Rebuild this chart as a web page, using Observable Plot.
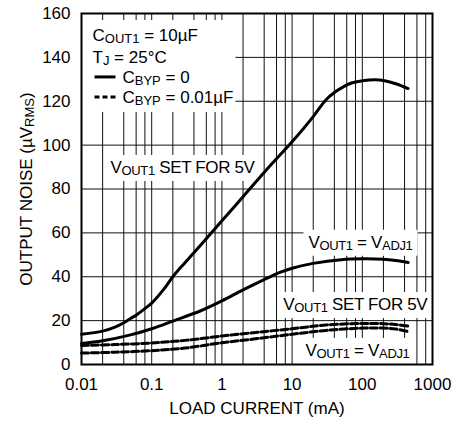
<!DOCTYPE html>
<html>
<head>
<meta charset="utf-8">
<script src="https://cdn.jsdelivr.net/npm/d3@7"></script>
<script src="https://cdn.jsdelivr.net/npm/@observablehq/plot@0.6"></script>
<style>
  html, body { margin: 0; padding: 0; background: #fff; }
  #chart { width: 471px; height: 421px; }
</style>
</head>
<body>
<div id="chart"></div>
<script>
// ---- data ----
const current5V_byp0 = [0.01, 0.02, 0.03, 0.04, 0.05, 0.06, 0.08, 0.1, 0.15, 0.2, 0.3, 0.5, 1, 2, 5, 10, 20, 30, 40, 50, 70, 100, 150, 200, 300, 450];
const noise5V_byp0   = [13.8, 15.2, 17, 19, 21, 22.5, 25.5, 28, 34.5, 40, 46.5, 54.5, 65.5, 76.5, 91, 101.5, 113, 120.5, 124, 126, 128.3, 129.3, 129.8, 129.5, 128, 125.8];

const currentAdj_byp0 = [0.01, 0.02, 0.05, 0.1, 0.2, 0.5, 1, 2, 4, 7, 10, 20, 50, 100, 200, 300, 450];
const noiseAdj_byp0   = [9.6, 10.8, 13.5, 16.3, 19.8, 24.5, 29, 34, 38.7, 42.2, 43.9, 46.1, 47.8, 48.2, 48, 47.4, 46.5];

const current5V_byp01 = [0.01, 0.03, 0.1, 0.3, 1, 3, 10, 30, 100, 200, 300, 450];
const noise5V_byp01   = [8.7, 9.1, 9.8, 11, 13, 14.6, 16.3, 18, 18.7, 18.6, 18.2, 17.5];

const currentAdj_byp01 = [0.01, 0.03, 0.1, 0.3, 1, 3, 10, 30, 100, 200, 300, 450];
const noiseAdj_byp01   = [5.2, 5.6, 6.3, 7.5, 9.9, 11.7, 13.8, 15.5, 16.6, 16.6, 16.2, 15];

const xTicks = [0.01, 0.1, 1, 10, 100, 1000];
const yTicks = [0, 20, 40, 60, 80, 100, 120, 140, 160];
const gridX = [0.02, 0.04, 0.06, 0.08, 0.1, 0.2, 0.4, 0.6, 0.8, 1, 2, 4, 6, 8, 10, 20, 40, 60, 80, 100, 200, 400, 600, 800];
const gridY = [20, 40, 60, 80, 100, 120, 140];

const labelText    = ["V_{OUT1} SET FOR 5V", "V_{OUT1} = V_{ADJ1}", "V_{OUT1} SET FOR 5V", "V_{OUT1} = V_{ADJ1}"];
const labelCurrent = [0.0259, 17.1, 7.5, 15.5];
const labelNoise   = [89.8, 55.7, 27.3, 6.4];

const legendText = ["C_{OUT1} = 10µF", "T_{J} = 25°C", "C_{BYP} = 0", "C_{BYP} = 0.01µF"];
const xTitle = "LOAD CURRENT (mA)";
const yTitle = "OUTPUT NOISE (µV_{RMS})";

// ---- tables built from the arrays ----
const toRows = (xs, ys, s) => xs.map((x, i) => ({current: x, noise: ys[i], series: s}));
const solidRows = [
  ...toRows(current5V_byp0, noise5V_byp0, "5V"),
  ...toRows(currentAdj_byp0, noiseAdj_byp0, "ADJ")
];
const dashedRows = [
  ...toRows(current5V_byp01, noise5V_byp01, "5V"),
  ...toRows(currentAdj_byp01, noiseAdj_byp01, "ADJ")
];
const labels = labelText.map((t, i) => ({text: t, current: labelCurrent[i], noise: labelNoise[i]}));

const FONT = '"Liberation Sans", Arial, Helvetica, sans-serif';

const plot = Plot.plot({
  width: 471,
  height: 421,
  marginLeft: 81,
  marginRight: 39,
  marginTop: 13,
  marginBottom: 57,
  style: {fontFamily: FONT, fontSize: "17px", color: "#000", background: "#fff"},
  x: {type: "log", domain: [0.01, 1000], ticks: xTicks, tickFormat: d => String(d), tickSize: 0, tickPadding: 13, label: null},
  y: {domain: [0, 160], ticks: yTicks, tickSize: 0, tickPadding: 11, label: null},
  marks: [
    Plot.ruleX(gridX, {stroke: "#111", strokeWidth: 1}),
    Plot.ruleY(gridY, {stroke: "#111", strokeWidth: 1}),
    Plot.line(solidRows, {x: "current", y: "noise", z: "series", stroke: "#000", strokeWidth: 3, curve: "catmull-rom"}),
    Plot.line(dashedRows, {x: "current", y: "noise", z: "series", stroke: "#000", strokeWidth: 3, strokeDasharray: "7,3", curve: "catmull-rom"}),
    Plot.text(labels, {x: "current", y: "noise", text: "text", textAnchor: "start", lineAnchor: "middle", fill: "#000"}),
    Plot.text([legendText[0]], {text: d => d, frameAnchor: "top-left", dx: 11, dy: 22, textAnchor: "start", lineAnchor: "middle"}),
    Plot.text([legendText[1]], {text: d => d, frameAnchor: "top-left", dx: 11, dy: 44, textAnchor: "start", lineAnchor: "middle"}),
    Plot.text([legendText[2]], {text: d => d, frameAnchor: "top-left", dx: 41, dy: 64, textAnchor: "start", lineAnchor: "middle"}),
    Plot.text([legendText[3]], {text: d => d, frameAnchor: "top-left", dx: 41, dy: 84, textAnchor: "start", lineAnchor: "middle"}),
    Plot.text([yTitle], {text: d => d, frameAnchor: "left", dx: -55, rotate: -90, textAnchor: "middle", lineAnchor: "middle"}),
    Plot.text([xTitle], {text: d => d, frameAnchor: "bottom", dy: 44, textAnchor: "middle", lineAnchor: "middle"}),
    Plot.frame({stroke: "#000", strokeWidth: 2})
  ]
});

document.getElementById("chart").append(plot);

// ---- post-processing: subscripts, label backgrounds, legend box ----
const NS = "http://www.w3.org/2000/svg";
const texts = Array.from(plot.querySelectorAll("text"));
const labelEls = [], legendEls = [];
for (const t of texts) {
  const s = t.textContent;
  if (labelText.includes(s)) { labelEls.push(t); t.setAttribute("letter-spacing", "-0.35"); }
  if (legendText.includes(s)) legendEls.push({el: t, idx: legendText.indexOf(s)});
  if (!s.includes("_{")) continue;
  t.textContent = "";
  let shifted = false;
  for (const p of s.split(/(_\{[^}]*\})/)) {
    if (!p) continue;
    const ts = document.createElementNS(NS, "tspan");
    if (p.startsWith("_{")) {
      ts.textContent = p.slice(2, -1);
      ts.setAttribute("font-size", "13");
      ts.setAttribute("dy", "2");
      shifted = true;
    } else {
      ts.textContent = p;
      if (shifted) { ts.setAttribute("dy", "-2"); shifted = false; }
    }
    t.append(ts);
  }
}

const svgRect = plot.getBoundingClientRect();
const rel = el => {
  const r = el.getBoundingClientRect();
  return {x0: r.left - svgRect.left, x1: r.right - svgRect.left, y0: r.top - svgRect.top, y1: r.bottom - svgRect.top};
};

const rules = plot.querySelectorAll('g[aria-label="rule"]');
const anchor = rules[rules.length - 1];
const boxG = document.createElementNS(NS, "g");
anchor.after(boxG);

for (const el of labelEls) {
  const b = rel(el);
  const r = document.createElementNS(NS, "rect");
  r.setAttribute("x", b.x0 - 5);
  r.setAttribute("y", b.y0 - 3);
  r.setAttribute("width", b.x1 - b.x0 + 10);
  r.setAttribute("height", b.y1 - b.y0 + 6);
  r.setAttribute("fill", "#fff");
  boxG.append(r);
}

// legend box
const frameLeft = 81, frameTop = 13;
let lx1 = 0, ly1 = 0;
for (const {el} of legendEls) { const b = rel(el); lx1 = Math.max(lx1, b.x1); ly1 = Math.max(ly1, b.y1); }
const lr = document.createElementNS(NS, "rect");
lr.setAttribute("x", frameLeft + 1);
lr.setAttribute("y", frameTop + 7);
lr.setAttribute("width", lx1 + 2 - frameLeft - 1);
lr.setAttribute("height", ly1 + 4 - frameTop - 7);
lr.setAttribute("fill", "#fff");
boxG.append(lr);

// legend line samples next to the C_BYP entries
for (const {el, idx} of legendEls) {
  if (idx < 2) continue;
  const b = rel(el);
  const cy = (b.y0 + b.y1) / 2 - 1;
  const ln = document.createElementNS(NS, "line");
  ln.setAttribute("x1", b.x0 - 28);
  ln.setAttribute("x2", b.x0 - 7);
  ln.setAttribute("y1", cy);
  ln.setAttribute("y2", cy);
  ln.setAttribute("stroke", "#000");
  ln.setAttribute("stroke-width", 3);
  if (idx === 3) ln.setAttribute("stroke-dasharray", "5,3");
  boxG.append(ln);
}
</script>
</body>
</html>
